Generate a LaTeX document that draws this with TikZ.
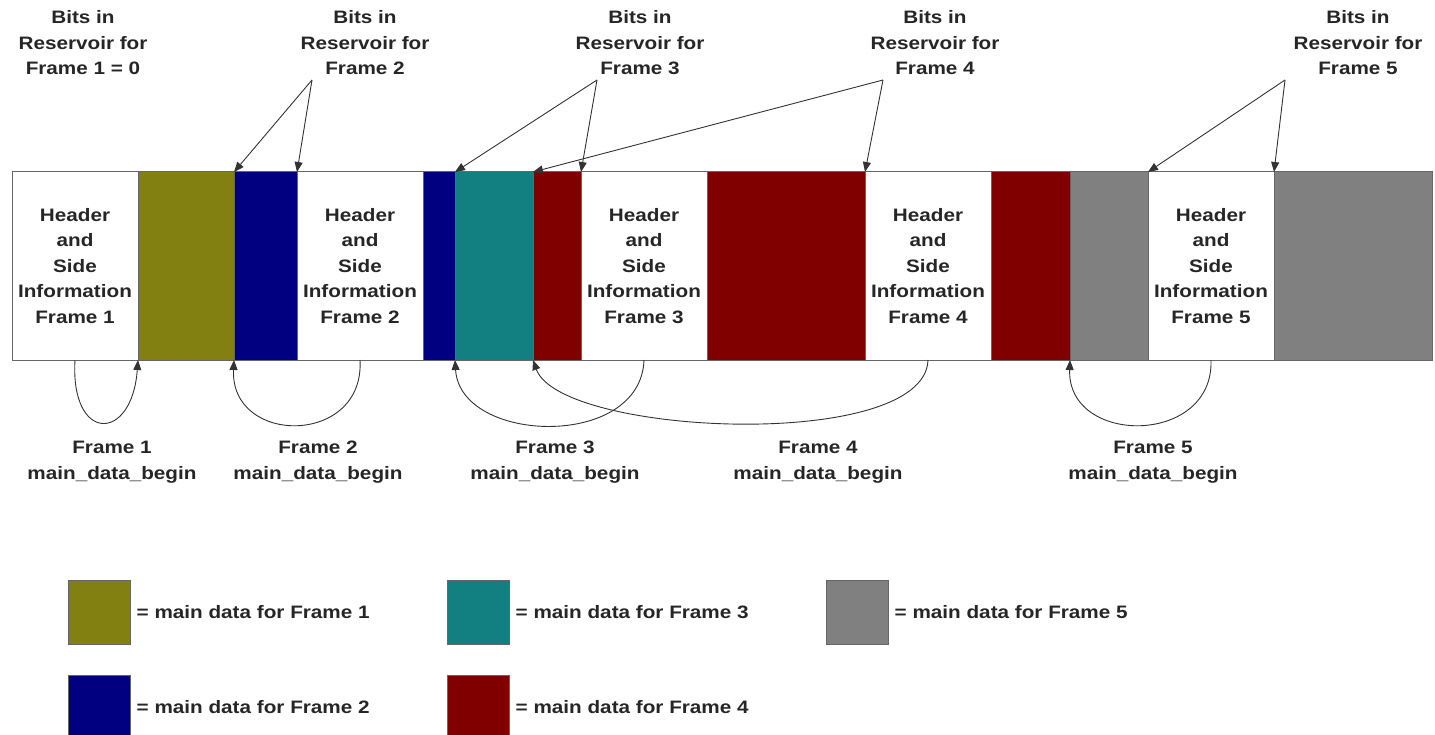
\documentclass[tikz,border=0pt]{standalone}
\usepackage{fontspec}
\setmainfont{Liberation Sans}[FakeStretch=1.15]
\usetikzlibrary{arrows.meta}

\definecolor{dolive}{RGB}{130,128,16}
\definecolor{dnavy}{RGB}{0,0,128}
\definecolor{dteal}{RGB}{18,128,128}
\definecolor{dred}{RGB}{128,0,0}
\definecolor{dgray}{RGB}{128,128,128}

\begin{document}
\begin{tikzpicture}[x=1pt, y=-1pt, >={Triangle[length=10pt,width=8pt]},
    every node/.style={font=\fontsize{18}{25.5}\selectfont\bfseries, text=black!85},
    seg/.style={rectangle, draw=black!60, line width=1pt, minimum height=188pt, inner sep=0pt, outer sep=0pt},
    hdr/.style={seg, fill=white, minimum width=126pt, align=center},
    txt/.style={align=center, inner sep=0pt},
    legendbox/.style={rectangle, draw=black!60, line width=1pt, minimum width=62pt, minimum height=64pt, inner sep=0pt},
    ptr/.style={->, line width=0.9pt, draw=black!80}]
    \useasboundingbox (0,0) rectangle (1435,735);

    \node[hdr] (h1) at (75,266) {Header\\and\\Side\\Information\\Frame 1};
    \node[seg, fill=dolive, minimum width=96pt] (d1) at (186,266) {};
    \node[seg, fill=dnavy, minimum width=63pt] (d2a) at (265.5,266) {};
    \node[hdr] (h2) at (360,266) {Header\\and\\Side\\Information\\Frame 2};
    \node[seg, fill=dnavy, minimum width=32pt] (d2b) at (439,266) {};
    \node[seg, fill=dteal, minimum width=78pt] (d3) at (494,266) {};
    \node[seg, fill=dred, minimum width=48pt] (d4a) at (557,266) {};
    \node[hdr] (h3) at (644,266) {Header\\and\\Side\\Information\\Frame 3};
    \node[seg, fill=dred, minimum width=158pt] (d4b) at (786,266) {};
    \node[hdr] (h4) at (928,266) {Header\\and\\Side\\Information\\Frame 4};
    \node[seg, fill=dred, minimum width=79pt] (d4c) at (1030.5,266) {};
    \node[seg, fill=dgray, minimum width=78pt] (d5a) at (1109,266) {};
    \node[hdr] (h5) at (1211,266) {Header\\and\\Side\\Information\\Frame 5};
    \node[seg, fill=dgray, minimum width=158pt] (d5b) at (1353,266) {};

    \node[txt] (r1) at (83,43) {Bits in\\Reservoir for\\Frame 1 = 0};
    \node[txt] (r2) at (365,43) {Bits in\\Reservoir for\\Frame 2};
    \node[txt] (r3) at (640,43) {Bits in\\Reservoir for\\Frame 3};
    \node[txt] (r4) at (935,43) {Bits in\\Reservoir for\\Frame 4};
    \node[txt] (r5) at (1358,43) {Bits in\\Reservoir for\\Frame 5};

    \coordinate (t2) at (312,80);
    \coordinate (t3) at (597,80);
    \coordinate (t4) at (883,80);
    \coordinate (t5) at (1285,80);

    \draw[ptr] (t2) -- (d2a.north west);
    \draw[ptr] (t2) -- (h2.north west);
    \draw[ptr] (t3) -- (d3.north west);
    \draw[ptr] (t3) -- (h3.north west);
    \draw[ptr] (t4) -- (d4a.north west);
    \draw[ptr] (t4) -- (h4.north west);
    \draw[ptr] (t5) -- (h5.north west);
    \draw[ptr] (t5) -- (d5b.north west);

    \draw[ptr] (h1.south) .. controls +(-5,83) and +(-6,83) .. (d1.south west);
    \draw[ptr] (h2.south) .. controls +(5,86) and +(-4,86) .. (d2a.south west);
    \draw[ptr] (h3.south) .. controls +(-3,90) and +(5,84) .. (d3.south west);
    \draw[ptr] (h4.south) .. controls +(-3,92) and +(27,76) .. (d4a.south west);
    \draw[ptr] (h5.south) .. controls +(3,86) and +(-3,86) .. (d5a.south west);

    \node[txt] (b1) at (112,462) {Frame 1\\main\_data\_begin};
    \node[txt] (b2) at (318,462) {Frame 2\\main\_data\_begin};
    \node[txt] (b3) at (555,462) {Frame 3\\main\_data\_begin};
    \node[txt] (b4) at (818,462) {Frame 4\\main\_data\_begin};
    \node[txt] (b5) at (1153,462) {Frame 5\\main\_data\_begin};

    \node[legendbox, fill=dolive] (k1) at (99,612) {};
    \node[legendbox, fill=dnavy] (k2) at (99,707) {};
    \node[legendbox, fill=dteal] (k3) at (478,612) {};
    \node[legendbox, fill=dred] (k4) at (478,707) {};
    \node[legendbox, fill=dgray] (k5) at (857,612) {};
    \node[anchor=west, inner sep=0pt, xshift=6pt] (l1) at (k1.east) {= main data for Frame 1};
    \node[anchor=west, inner sep=0pt, xshift=6pt] (l2) at (k2.east) {= main data for Frame 2};
    \node[anchor=west, inner sep=0pt, xshift=6pt] (l3) at (k3.east) {= main data for Frame 3};
    \node[anchor=west, inner sep=0pt, xshift=6pt] (l4) at (k4.east) {= main data for Frame 4};
    \node[anchor=west, inner sep=0pt, xshift=6pt] (l5) at (k5.east) {= main data for Frame 5};
\end{tikzpicture}
\end{document}
